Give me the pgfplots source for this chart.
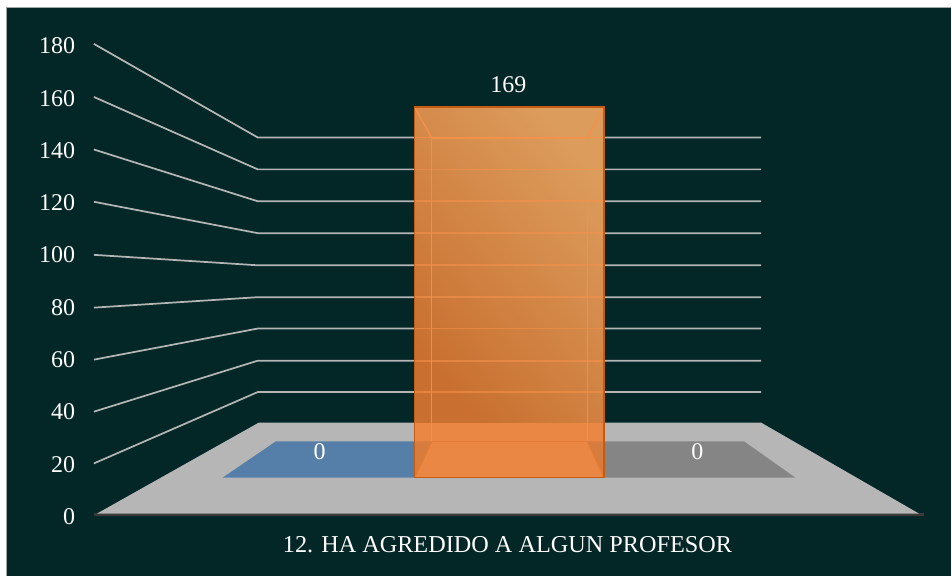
\documentclass[border=0pt]{standalone}
\usepackage{pgfplots}
\pgfplotsset{compat=1.18}
\usepackage{fontspec}
\setmainfont{Liberation Serif}
\definecolor{bgc}{HTML}{032626}
\definecolor{gridc}{HTML}{B4B6B5}
\definecolor{floorc}{HTML}{B6B6B6}
\definecolor{bluec}{HTML}{557FA8}
\definecolor{grayc}{HTML}{858585}
\definecolor{edgeo}{HTML}{C55A11}
\definecolor{lineo}{HTML}{F5914A}
\definecolor{baseline}{HTML}{3A3A3A}
\definecolor{bartop}{HTML}{DC9C5C}
\definecolor{barmid}{HTML}{D27F40}
\definecolor{barbot}{HTML}{C97030}
\definecolor{barfloor}{HTML}{EA8745}
\definecolor{framec}{HTML}{A3A7A6}
\begin{document}
\begin{tikzpicture}
\begin{axis}[
  scale only axis, width=714pt, height=432pt,
  xmin=0, xmax=952, ymin=-22.93, ymax=197.2,
  axis line style={draw=none},
  axis on top,
  xtick=\empty,
  ytick={0,20,40,60,80,100,120,140,160,180},
  tick style={draw=none},
  yticklabel style={anchor=east, xshift=60pt, yshift=-0.75pt, text=white, font=\fontsize{18}{18}\selectfont},
  /pgf/number format/assume math mode=true,
  clip=false,
]
% page and chart area
\addplot[draw=none, fill=white, forget plot] coordinates {(0,-22.93)(952,-22.93)(952,197.2)(0,197.2)} -- cycle;
\addplot[draw=none, fill=bgc, forget plot] coordinates {(6,-23.0)(952.3,-23.0)(952.3,194.6)(6,194.6)} -- cycle;
\addplot[framec, line width=1.1pt, forget plot] coordinates {(6.5,-23.0)(6.5,194.3)(952.3,194.3)};
% receding grid lines
\addplot[gridc, line width=1.3pt, forget plot] coordinates {(94,180.4)(258,144.6)(762,144.6)};
\addplot[gridc, line width=1.3pt, forget plot] coordinates {(94,160.1)(258,132.4)(762,132.4)};
\addplot[gridc, line width=1.3pt, forget plot] coordinates {(94,140.0)(258,120.2)(762,120.2)};
\addplot[gridc, line width=1.3pt, forget plot] coordinates {(94,120.0)(258,108.0)(762,108.0)};
\addplot[gridc, line width=1.3pt, forget plot] coordinates {(94,99.7)(258,95.7)(762,95.7)};
\addplot[gridc, line width=1.3pt, forget plot] coordinates {(94,79.5)(258,83.5)(762,83.5)};
\addplot[gridc, line width=1.3pt, forget plot] coordinates {(94,59.6)(258,71.5)(762,71.5)};
\addplot[gridc, line width=1.3pt, forget plot] coordinates {(94,39.7)(258,59.2)(762,59.2)};
\addplot[gridc, line width=1.3pt, forget plot] coordinates {(94,19.9)(258,47.2)(762,47.2)};
% floor
\addplot[draw=none, fill=baseline, forget plot] coordinates {(94,-0.4)(925,-0.4)(925,0.9)(94,0.9)} -- cycle;
\addplot[draw=none, fill=floorc, forget plot] coordinates {(97,0.7)(920,0.7)(762,35.5)(259,35.5)} -- cycle;
% zero bars on the floor
\addplot[draw=none, fill=bluec, forget plot] coordinates {(223,14.5)(420,14.5)(420,28.3)(276,28.3)} -- cycle;
\addplot[draw=none, fill=grayc, forget plot] coordinates {(600,14.5)(796,14.5)(745,28.3)(600,28.3)} -- cycle;
% orange bar, value 169
\addplot[draw=none, top color=bartop, middle color=barmid, bottom color=barbot, shading angle=-50, forget plot] coordinates {(415,35.5)(605,35.5)(605,156.3)(415,156.3)} -- cycle;
\addplot[draw=none, fill=barfloor, forget plot] coordinates {(415,14.5)(605,14.5)(605,35.5)(415,35.5)} -- cycle;
\addplot[draw=none, fill=barfloor!92!black, forget plot] coordinates {(415,14.5)(432,28.3)(415,28.3)} -- cycle;
\addplot[draw=none, fill=barfloor!92!black, forget plot] coordinates {(605,14.5)(588,28.3)(605,28.3)} -- cycle;
% grid lines seen through the bar
\addplot[lineo, opacity=0.8, line width=1.2pt, forget plot] coordinates {(415,144.6)(605,144.6)};
\addplot[lineo, opacity=0.6, line width=1.2pt, forget plot] coordinates {(415,132.4)(605,132.4)};
\addplot[lineo, opacity=0.6, line width=1.2pt, forget plot] coordinates {(415,120.2)(605,120.2)};
\addplot[lineo, opacity=0.6, line width=1.2pt, forget plot] coordinates {(415,108.0)(605,108.0)};
\addplot[lineo, opacity=0.6, line width=1.2pt, forget plot] coordinates {(415,95.7)(605,95.7)};
\addplot[lineo, opacity=0.6, line width=1.2pt, forget plot] coordinates {(415,83.5)(605,83.5)};
\addplot[lineo, opacity=0.6, line width=1.2pt, forget plot] coordinates {(415,71.5)(605,71.5)};
\addplot[lineo, opacity=0.6, line width=1.2pt, forget plot] coordinates {(415,59.2)(605,59.2)};
\addplot[lineo, opacity=0.6, line width=1.2pt, forget plot] coordinates {(415,47.2)(605,47.2)};
% inner (back) edges of the bar
\addplot[lineo, opacity=0.9, line width=1.2pt, forget plot] coordinates {(432,28.3)(432,144.5)(588,144.5)(588,28.3)};
\addplot[edgeo!40!lineo, line width=1.1pt, forget plot] coordinates {(432,28.3)(588,28.3)};
\addplot[lineo, opacity=0.9, line width=1.2pt, forget plot] coordinates {(415,156.3)(432,144.5)};
\addplot[lineo, opacity=0.9, line width=1.2pt, forget plot] coordinates {(605,156.3)(588,144.5)};
\addplot[edgeo!40!lineo, line width=1.1pt, forget plot] coordinates {(415,14.5)(432,28.3)};
\addplot[edgeo!40!lineo, line width=1.1pt, forget plot] coordinates {(605,14.5)(588,28.3)};
\addplot[edgeo, line width=1.3pt, forget plot] coordinates {(415,14.5)(605,14.5)(605,156.3)(415,156.3)} -- cycle;
% labels
\node[text=white, font=\fontsize{18}{18}\selectfont] at (axis cs:509,164.8) {169};
\node[text=white, font=\fontsize{18}{18}\selectfont] at (axis cs:320,24.5) {0};
\node[text=white, font=\fontsize{18}{18}\selectfont] at (axis cs:698,24.5) {0};
\node[text=white, font=\fontsize{18.2}{18}\selectfont] at (axis cs:508,-11) {12. HA AGREDIDO A ALGUN PROFESOR};
\end{axis}
\end{tikzpicture}
\end{document}
